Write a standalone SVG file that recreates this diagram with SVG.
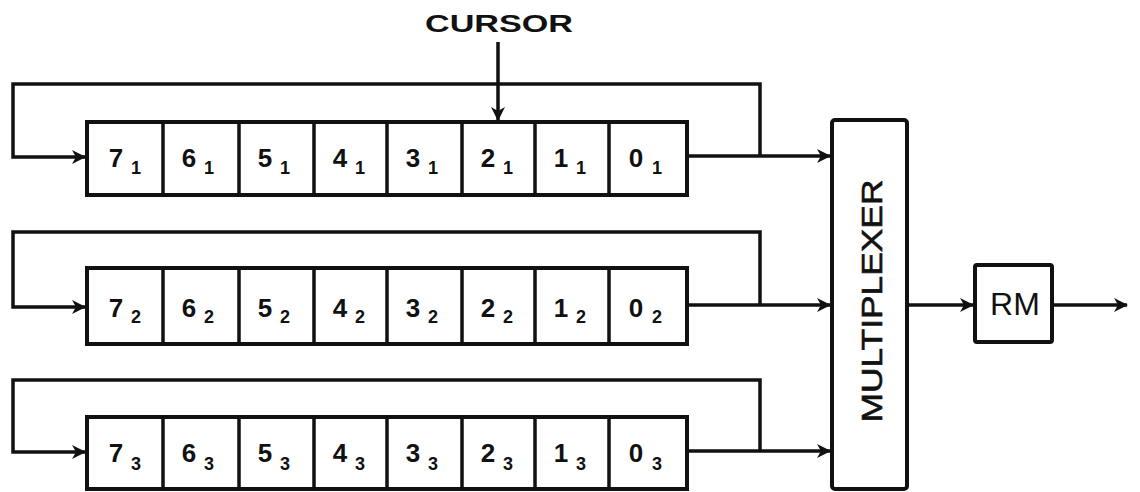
<svg xmlns="http://www.w3.org/2000/svg" width="1140" height="492" viewBox="0 0 1140 492">
<style>
.ln{fill:none;stroke:#111;stroke-width:3.5;stroke-linejoin:miter}
.bx{fill:#fff;stroke:#111;stroke-width:4}
.dv{stroke:#111;stroke-width:3.5}
.d{font-family:"Liberation Sans",Arial,sans-serif;font-weight:bold;font-size:26px;fill:#111;text-anchor:middle}
.s{font-family:"Liberation Sans",Arial,sans-serif;font-weight:bold;font-size:18px;fill:#111;text-anchor:middle}
.lb{font-family:"Liberation Sans",Arial,sans-serif;font-weight:bold;fill:#111}
.lr{font-family:"Liberation Sans",Arial,sans-serif;font-weight:normal;fill:#111}
</style>
<defs>
<marker id="ah" viewBox="0 0 14 14" refX="13" refY="7" markerWidth="14" markerHeight="14" markerUnits="userSpaceOnUse" orient="auto">
<path d="M0,0 L14,7 L0,14 L4,7 Z" fill="#111"/>
</marker>
</defs>
<rect width="1140" height="492" fill="#fff"/>
<g id="connectors">
<path class="ln" d="M760,156 V84 H13 V157 H85" marker-end="url(#ah)"/>
<path class="ln" d="M689,156 H830" marker-end="url(#ah)"/>
<path class="ln" d="M760,305 V232 H13 V307 H85" marker-end="url(#ah)"/>
<path class="ln" d="M689,305 H830" marker-end="url(#ah)"/>
<path class="ln" d="M760,451 V380 H13 V452 H85" marker-end="url(#ah)"/>
<path class="ln" d="M689,451 H830" marker-end="url(#ah)"/>
<path class="ln" d="M907,305 H973" marker-end="url(#ah)"/>
<path class="ln" d="M1052,305 H1127" marker-end="url(#ah)"/>
<path class="ln" d="M498,42 V120" marker-end="url(#ah)"/>
</g>
<g id="cursor-label"><text class="lb" x="499" y="32" font-size="23" text-anchor="middle" textLength="148" lengthAdjust="spacingAndGlyphs">CURSOR</text></g>
<g id="register1">
<rect class="bx" x="87" y="122" width="600" height="73"/>
<path class="dv" d="M163,122V195M239,122V195M314,122V195M387,122V195M462,122V195M535,122V195M609,122V195"/>
<text class="d" x="116" y="167">7</text><text class="s" x="136" y="174">1</text>
<text class="d" x="189" y="167">6</text><text class="s" x="209" y="174">1</text>
<text class="d" x="265" y="167">5</text><text class="s" x="285" y="174">1</text>
<text class="d" x="340" y="167">4</text><text class="s" x="360" y="174">1</text>
<text class="d" x="413" y="167">3</text><text class="s" x="433" y="174">1</text>
<text class="d" x="488" y="167">2</text><text class="s" x="508" y="174">1</text>
<text class="d" x="561" y="167">1</text><text class="s" x="581" y="174">1</text>
<text class="d" x="636" y="167">0</text><text class="s" x="657" y="174">1</text>
</g>
<g id="register2">
<rect class="bx" x="87" y="268" width="600" height="76"/>
<path class="dv" d="M163,268V344M239,268V344M314,268V344M387,268V344M462,268V344M535,268V344M609,268V344"/>
<text class="d" x="116" y="317">7</text><text class="s" x="136" y="323">2</text>
<text class="d" x="189" y="317">6</text><text class="s" x="209" y="323">2</text>
<text class="d" x="265" y="317">5</text><text class="s" x="285" y="323">2</text>
<text class="d" x="340" y="317">4</text><text class="s" x="360" y="323">2</text>
<text class="d" x="413" y="317">3</text><text class="s" x="433" y="323">2</text>
<text class="d" x="488" y="317">2</text><text class="s" x="508" y="323">2</text>
<text class="d" x="561" y="317">1</text><text class="s" x="581" y="323">2</text>
<text class="d" x="636" y="317">0</text><text class="s" x="657" y="323">2</text>
</g>
<g id="register3">
<rect class="bx" x="87" y="417" width="600" height="72"/>
<path class="dv" d="M163,417V489M239,417V489M314,417V489M387,417V489M462,417V489M535,417V489M609,417V489"/>
<text class="d" x="116" y="462">7</text><text class="s" x="136" y="470">3</text>
<text class="d" x="189" y="462">6</text><text class="s" x="209" y="470">3</text>
<text class="d" x="265" y="462">5</text><text class="s" x="285" y="470">3</text>
<text class="d" x="340" y="462">4</text><text class="s" x="360" y="470">3</text>
<text class="d" x="413" y="462">3</text><text class="s" x="433" y="470">3</text>
<text class="d" x="488" y="462">2</text><text class="s" x="508" y="470">3</text>
<text class="d" x="561" y="462">1</text><text class="s" x="581" y="470">3</text>
<text class="d" x="636" y="462">0</text><text class="s" x="657" y="470">3</text>
</g>
<g id="multiplexer">
<rect class="bx" x="832" y="120" width="75" height="369" rx="3"/>
<text class="lr" font-size="30" text-anchor="middle" transform="translate(882,301) rotate(-90)" textLength="243" lengthAdjust="spacingAndGlyphs" stroke="#111" stroke-width="0.6">MULTIPLEXER</text>
</g>
<g id="rm">
<rect class="bx" x="975" y="265" width="77" height="77" rx="2"/>
<text class="lr" font-size="32" x="1015" y="315" text-anchor="middle">RM</text>
</g>
</svg>
